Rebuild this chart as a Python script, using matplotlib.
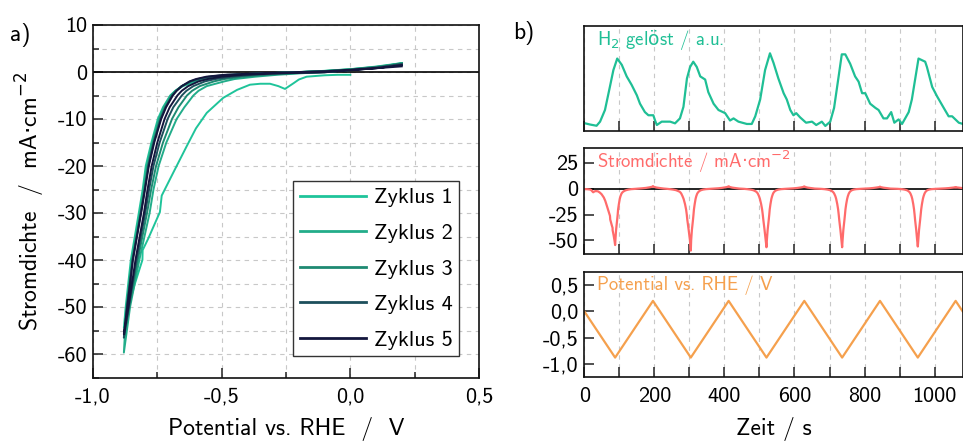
import matplotlib
matplotlib.use("Agg")
import matplotlib.pyplot as plt
from matplotlib.ticker import MultipleLocator, FuncFormatter
import numpy as np

plt.rcParams['font.family'] = ['cmss10', 'DejaVu Sans']
plt.rcParams['axes.unicode_minus'] = False
plt.rcParams['mathtext.fontset'] = 'dejavusans'

# ---------------- data: cyclic voltammetry (panel a) ----------------
CYCLE_LABELS = ['Zyklus 1', 'Zyklus 2', 'Zyklus 3', 'Zyklus 4', 'Zyklus 5']
CYCLE_COLORS = ['#1fc49a', '#22ad8a', '#1e8a72', '#1d4f5c', '#13163d']

V_MIN, V_MAX = -0.88, 0.2
J_STEEP = [-0.3, -0.6, -1, -1.5, -2, -3, -4, -5, -7.5, -10, -15, -20, -25, -30, -40, -50]
V_FLAT = [0.2, 0.1, 0.0, -0.1]

# cycle 1 cathodic sweep (starts at 0.0 V)
V1_DOWN = [0.0, -0.05, -0.1, -0.17, -0.2, -0.221, -0.254, -0.28, -0.312, -0.35,
           -0.39, -0.44, -0.494, -0.558, -0.6, -0.636, -0.688, -0.733, -0.740,
           -0.785, -0.807, -0.808, -0.837, -0.863]
J1_DOWN = [-0.6, -0.6, -0.7, -1.0, -1.6, -2.4, -3.6, -3.0, -2.5, -2.5,
           -2.7, -3.8, -5.5, -8.7, -12.0, -15.8, -21.4, -26.3, -29.8,
           -35.4, -37.9, -40.0, -45.0, -50.2]

# cathodic sweeps of cycles 2-5 (potential at each J_STEEP level)
V_DOWN = {
    2: [-0.20, -0.286, -0.37, -0.45, -0.49, -0.558, -0.59, -0.61, -0.645, -0.675, -0.715, -0.745, -0.765, -0.78, -0.82, -0.856],
    3: [-0.24, -0.33, -0.42, -0.49, -0.53, -0.585, -0.615, -0.635, -0.668, -0.693, -0.728, -0.755, -0.774, -0.79, -0.826, -0.859],
    4: [-0.27, -0.38, -0.46, -0.525, -0.565, -0.61, -0.637, -0.655, -0.688, -0.71, -0.741, -0.765, -0.782, -0.797, -0.831, -0.861],
    5: [-0.30, -0.42, -0.50, -0.555, -0.59, -0.63, -0.655, -0.672, -0.702, -0.722, -0.75, -0.772, -0.788, -0.802, -0.835, -0.862],
}
# anodic sweeps of cycles 1-5
V_UP = {
    1: [-0.30, -0.42, -0.50, -0.56, -0.60, -0.65, -0.68, -0.70, -0.728, -0.748, -0.773, -0.795, -0.807, -0.822, -0.853, -0.873],
    2: [-0.33, -0.45, -0.53, -0.58, -0.615, -0.655, -0.68, -0.698, -0.725, -0.744, -0.769, -0.79, -0.803, -0.817, -0.849, -0.870],
    3: [-0.34, -0.46, -0.54, -0.585, -0.618, -0.655, -0.678, -0.694, -0.72, -0.74, -0.766, -0.787, -0.80, -0.815, -0.847, -0.869],
    4: [-0.35, -0.48, -0.55, -0.593, -0.622, -0.655, -0.676, -0.692, -0.718, -0.737, -0.764, -0.785, -0.799, -0.814, -0.846, -0.868],
    5: [-0.36, -0.49, -0.56, -0.60, -0.625, -0.655, -0.675, -0.69, -0.716, -0.735, -0.762, -0.783, -0.798, -0.813, -0.845, -0.867],
}
J_TIP = {1: -54.4, 2: -59.7, 3: -56.5, 4: -56.5, 5: -55.8}
J_FLAT_DOWN = {
    2: [1.9, 0.95, 0.45, 0.0],
    3: [1.8, 0.9, 0.42, -0.02],
    4: [1.7, 0.85, 0.4, -0.05],
    5: [1.5, 0.8, 0.38, -0.06],
}
J_FLAT_UP = {
    1: [1.9, 1.15, 0.6, 0.25],
    2: [1.8, 1.1, 0.58, 0.22],
    3: [1.7, 1.05, 0.55, 0.2],
    4: [1.5, 0.95, 0.5, 0.17],
    5: [1.2, 0.8, 0.42, 0.15],
}

# ---------------- data: time series (panel b) ----------------
T_VERT = [0, 88, 196, 304, 412, 520, 628, 736, 844, 952, 1060, 1080]
E_VERT = [0.0, -0.88, 0.2, -0.88, 0.2, -0.88, 0.2, -0.88, 0.2, -0.88, 0.2, 0.0]
T_MIN = [88, 304, 520, 736, 952]
SCAN_RATE = 0.01  # V/s
T_TAIL = [1060, 1070, 1080]
J_TAIL = [1.2, 0.8, 0.4]

T_H2 = [0, 16, 35, 45, 59, 73, 83, 94, 107, 121, 135, 150, 159, 173, 183, 197, 202, 207, 221, 245,
        259, 273, 283, 293, 302, 311, 321, 331, 345, 354, 369, 383, 402, 416, 426, 440, 464, 478, 488, 502,
        516, 530, 540, 554, 569, 578, 588, 597, 605, 616, 633, 650, 662, 678, 688, 702, 713, 726, 735, 745,
        759, 773, 783, 793, 802, 816, 831, 840, 854, 864, 876, 885, 897, 907, 926, 935, 954, 973, 978, 993,
        1007, 1026, 1040, 1050, 1069, 1081]
H2 = [0.075, 0.062, 0.05, 0.089, 0.20, 0.42, 0.58, 0.69, 0.63, 0.52, 0.44, 0.34, 0.26, 0.18, 0.15, 0.15, 0.10, 0.057, 0.089, 0.089,
      0.073, 0.12, 0.23, 0.50, 0.61, 0.66, 0.61, 0.52, 0.49, 0.37, 0.26, 0.20, 0.17, 0.10, 0.12, 0.089, 0.067, 0.067, 0.14, 0.30,
      0.58, 0.74, 0.65, 0.50, 0.36, 0.30, 0.20, 0.15, 0.17, 0.13, 0.079, 0.089, 0.057, 0.089, 0.048, 0.089, 0.22, 0.52, 0.73, 0.73,
      0.64, 0.52, 0.47, 0.36, 0.36, 0.26, 0.22, 0.20, 0.12, 0.12, 0.18, 0.079, 0.11, 0.067, 0.18, 0.30, 0.69, 0.66, 0.61, 0.42,
      0.33, 0.22, 0.14, 0.14, 0.079, 0.067]

H2_COLOR = '#1fbf95'
J_COLOR = '#ff6b6b'
E_COLOR = '#f5a04d'


def cycle_path(k):
    """Assemble the (V, j, t) path for cycle k from the read-off arrays."""
    if k == 1:
        v_d = list(V1_DOWN)
        j_d = list(J1_DOWN)
    else:
        v_d = list(V_FLAT) + list(V_DOWN[k])
        j_d = list(J_FLAT_DOWN[k]) + list(J_STEEP)
    v_u = list(V_UP[k])[::-1] + list(V_FLAT)[::-1]
    j_u = list(J_STEEP)[::-1] + list(J_FLAT_UP[k])[::-1]
    v = np.array(v_d + [V_MIN] + v_u)
    j = np.array(j_d + [J_TIP[k]] + j_u)
    tmin = T_MIN[k - 1]
    nd = len(v_d)
    t = np.empty_like(v)
    t[:nd] = tmin - (v[:nd] - V_MIN) / SCAN_RATE
    t[nd] = tmin
    t[nd + 1:] = tmin + (v[nd + 1:] - V_MIN) / SCAN_RATE
    return v, j, t


def comma(fmt):
    return FuncFormatter(lambda x, p: (fmt % x).replace('.', ','))


W, H = 963, 443
fig = plt.figure(figsize=(W / 100, H / 100), dpi=100)

TICK_FS = 16
LABEL_FS = 17
IN_FS = 13.5
GRID_KW = dict(color='#c8c8c8', linestyle=(0, (4, 4)), linewidth=0.8)


def style_axes(ax):
    for s in ax.spines.values():
        s.set_linewidth(1.2)
        s.set_color('#111111')
    ax.tick_params(which='both', direction='in', labelsize=TICK_FS, width=1.1, color='#222222', pad=4)
    ax.tick_params(which='major', length=7)
    ax.tick_params(which='minor', length=4.5)


CDOT = r'$\mathrm{·}$'
ODOT = r'$\mathrm{ö}$'

# ---------------- panel a ----------------
axa = fig.add_axes([93 / W, 1 - 377.5 / H, (479 - 93) / W, (377.5 - 25) / H])
style_axes(axa)
axa.axhline(0, color='black', lw=1.2, zorder=1)
curves = [cycle_path(k) for k in range(1, 6)]
for k in range(5):
    v, j, t = curves[k]
    axa.plot(v, j, color=CYCLE_COLORS[k], lw=1.4, label=CYCLE_LABELS[k], zorder=2 + k)
axa.set_xlim(-1.0, 0.5)
axa.set_ylim(-65, 10)
axa.xaxis.set_major_locator(MultipleLocator(0.5))
axa.xaxis.set_minor_locator(MultipleLocator(0.25))
axa.yaxis.set_major_locator(MultipleLocator(10))
axa.yaxis.set_minor_locator(MultipleLocator(5))
axa.xaxis.set_major_formatter(comma('%.1f'))
axa.yaxis.set_major_formatter(FuncFormatter(lambda x, p: '%d' % round(x)))
axa.grid(True, which='both', **GRID_KW)
axa.set_axisbelow(True)
axa.tick_params(axis='x', pad=7)
axa.set_xlabel('Potential vs. RHE  /  V', fontsize=LABEL_FS, labelpad=8)
axa.set_ylabel('Stromdichte  /  mA' + CDOT + 'cm$^{-2}$', fontsize=LABEL_FS, labelpad=8)
leg = axa.legend(loc='lower right', bbox_to_anchor=(0.948, 0.06), borderaxespad=0,
                 fontsize=16, handlelength=3.0, labelspacing=0.72, fancybox=False,
                 edgecolor='#333333', framealpha=1, handletextpad=0.32, borderpad=0.3)
leg.get_frame().set_linewidth(1.0)
for ln in leg.get_lines():
    ln.set_linewidth(2.0)

# ---------------- panel b ----------------
XL, XR = 584.3 / W, 1.0
panel_px = [(26, 131), (148, 254), (272, 377)]
axes_b = []
for (top, bot) in panel_px:
    ax = fig.add_axes([XL, 1 - bot / H, XR - XL, (bot - top) / H])
    style_axes(ax)
    ax.set_xlim(0, 1081)
    ax.xaxis.set_major_locator(MultipleLocator(200))
    ax.xaxis.set_minor_locator(MultipleLocator(100))
    ax.grid(True, axis='x', which='both', **GRID_KW)
    ax.set_axisbelow(True)
    ax.tick_params(which='minor', length=7)
    axes_b.append(ax)

ax1, ax2, ax3 = axes_b
ax1.tick_params(labelbottom=False)
ax2.tick_params(labelbottom=False)

# H2
ax1.plot(T_H2, H2, color=H2_COLOR, lw=1.6)
ax1.set_ylim(0, 1)
ax1.set_yticks([])
ax1.text(0.034, 0.87, 'H$_2$ gel' + ODOT + 'st / a.u.', transform=ax1.transAxes, color=H2_COLOR,
         fontsize=IN_FS, va='center', ha='left')

# current density vs time
ax2.axhline(0, color='black', lw=1.2, zorder=1)
for k in range(5):
    v, j, t = curves[k]
    ax2.plot(t, j, color=J_COLOR, lw=1.6, zorder=2)
ax2.plot(T_TAIL, J_TAIL, color=J_COLOR, lw=1.6, zorder=2)
ax2.set_ylim(-63, 39)
ax2.set_yticks([25, 0, -25, -50])
ax2.yaxis.set_major_formatter(FuncFormatter(lambda x, p: '%d' % round(x)))
ax2.text(0.034, 0.87, 'Stromdichte / mA' + CDOT + 'cm$^{-2}$', transform=ax2.transAxes, color=J_COLOR,
         fontsize=IN_FS, va='center', ha='left')

# potential vs time
ax3.plot(T_VERT, E_VERT, color=E_COLOR, lw=1.6)
ax3.set_ylim(-1.25, 0.75)
ax3.set_yticks([0.5, 0.0, -0.5, -1.0])
ax3.yaxis.set_major_formatter(comma('%.1f'))
ax3.tick_params(axis='x', pad=7)
ax3.text(0.034, 0.876, 'Potential vs. RHE / V', transform=ax3.transAxes, color=E_COLOR,
         fontsize=IN_FS, va='center', ha='left')
ax3.set_xlabel('Zeit / s', fontsize=LABEL_FS, labelpad=8)

fig.text(10 / W, 1 - 35 / H, 'a)', fontsize=17, va='center', ha='left')
fig.text(513 / W, 1 - 33 / H, 'b)', fontsize=17, va='center', ha='left')

fig.savefig('out.png', dpi=100)
